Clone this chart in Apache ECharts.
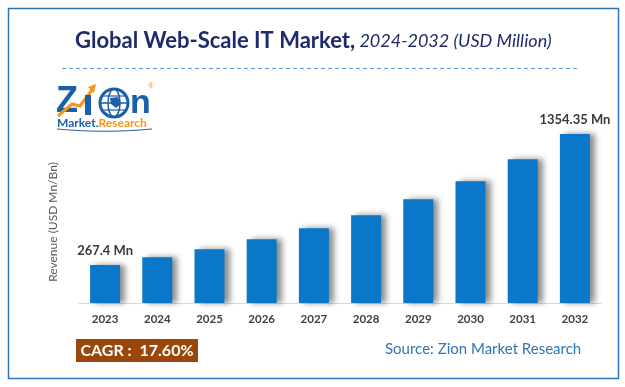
<!DOCTYPE html>
<html>
<head>
<meta charset="utf-8">
<style>html,body{margin:0;padding:0;background:#fff;}#c{width:625px;height:387px;}</style>
<script src="https://cdn.jsdelivr.net/npm/echarts@6/dist/echarts.min.js"></script>
</head>
<body>
<div id="c"></div>
<script>
const categories = ['2023','2024','2025','2026','2027','2028','2029','2030','2031','2032'];
const revenue = [304.5, 366.2, 430.3, 510.5, 598.6, 702.8, 831.0, 975.3, 1151.6, 1354.35];
const valueLabels = ['267.4 Mn', '', '', '', '', '', '', '', '', '1354.35 Mn'];
const titleBold = 'Global Web-Scale IT Market,';
const titleItalic = ' 2024-2032 (USD Million)';
const yAxisName = 'Revenue (USD Mn/Bn)';
const cagrText = 'CAGR :  17.60%';
const sourceText = 'Source: Zion Market Research';

const chart = echarts.init(document.getElementById('c'), null, {renderer: 'canvas'});
const FONT = 'Lato, "Open Sans", sans-serif';

const barData = revenue.map((v, i) => ({
  value: v,
  label: {
    show: valueLabels[i] !== '',
    formatter: valueLabels[i]
  }
}));

chart.setOption({
  animation: false,
  grid: {left: 79, right: 24, top: 134, bottom: 84},
  xAxis: {
    type: 'category',
    data: categories,
    axisLine: {show: true, lineStyle: {color: '#d9d9d9', width: 1}},
    axisTick: {show: false},
    axisLabel: {color: '#404040', fontFamily: FONT, fontSize: 11.5, fontWeight: 'bold', margin: 10}
  },
  yAxis: {
    type: 'value',
    min: 0,
    max: 1354.35,
    axisLine: {show: false},
    axisTick: {show: false},
    axisLabel: {show: false},
    splitLine: {show: false}
  },
  series: [{
    type: 'bar',
    data: barData,
    barWidth: 30,
    itemStyle: {
      color: '#0a77c9',
      shadowColor: 'rgba(0,0,0,0.45)',
      shadowBlur: 6,
      shadowOffsetX: 5,
      shadowOffsetY: 0
    },
    label: {
      position: 'top',
      distance: 8,
      color: '#3a3a3a',
      fontFamily: FONT,
      fontSize: 13,
      fontWeight: 'bold'
    }
  }],
  graphic: [
    // outer border
    {type: 'rect', shape: {x: 8.5, y: 8.5, width: 610, height: 370}, style: {fill: 'none', stroke: '#2e75b6', lineWidth: 1.5}, silent: true},
    // title
    {type: 'text', x: 75, y: 41, style: {
      text: '{b|' + titleBold + '}{i|' + titleItalic + '}',
      rich: {
        b: {fontFamily: FONT, fontSize: 22, fontWeight: 'bold', fill: '#1f2a6b'},
        i: {fontFamily: FONT, fontSize: 18, fontStyle: 'italic', fill: '#1f2a6b'}
      },
      textVerticalAlign: 'middle'
    }},
    // dashed separator
    {type: 'line', shape: {x1: 62, y1: 68.5, x2: 578, y2: 68.5}, style: {stroke: '#5b9bd5', lineWidth: 1, lineDash: [4, 3]}},
    // y axis name
    {type: 'text', x: 53, y: 222, rotation: Math.PI / 2, style: {text: yAxisName, fontFamily: FONT, fontSize: 12, fill: '#595959', textAlign: 'center', textVerticalAlign: 'middle'}},
    // logo: Z
    {type: 'text', x: 56, y: 102, style: {text: 'Z', fontFamily: 'Arial, "Liberation Sans", sans-serif', fontSize: 36, fontWeight: 'bold', fill: '#1b5fa8', textVerticalAlign: 'middle'}},
    // orange arrow
    {type: 'polyline', shape: {points: [[58, 116], [72, 104], [80, 106], [92, 90]]}, style: {stroke: '#f7941d', lineWidth: 3, fill: 'none'}},
    {type: 'polygon', shape: {points: [[88, 87], [96, 84], [94, 93]]}, style: {fill: '#f7941d'}},
    // i
    {type: 'rect', shape: {x: 85, y: 95, width: 6, height: 20}, style: {fill: '#1b5fa8'}},
    // globe
    {type: 'circle', shape: {cx: 114, cy: 103, r: 14}, style: {fill: '#ffffff', stroke: '#1b5fa8', lineWidth: 3}},
    {type: 'ellipse', shape: {cx: 114, cy: 103, rx: 6, ry: 14}, style: {fill: 'none', stroke: '#1b5fa8', lineWidth: 1.5}},
    {type: 'line', shape: {x1: 100, y1: 103, x2: 128, y2: 103}, style: {stroke: '#1b5fa8', lineWidth: 1.5}},
    {type: 'line', shape: {x1: 103, y1: 96, x2: 125, y2: 96}, style: {stroke: '#1b5fa8', lineWidth: 1.2}},
    {type: 'line', shape: {x1: 103, y1: 110, x2: 125, y2: 110}, style: {stroke: '#1b5fa8', lineWidth: 1.2}},
    {type: 'polygon', shape: {points: [[110, 98], [118, 97], [121, 104], [116, 108], [111, 104]]}, style: {fill: '#1b5fa8'}},
    // n
    {type: 'text', x: 130, y: 104, style: {text: 'n', fontFamily: 'Arial, "Liberation Sans", sans-serif', fontSize: 34, fontWeight: 'bold', fill: '#1b5fa8', textVerticalAlign: 'middle'}},
    {type: 'text', x: 148, y: 86, style: {text: '®', fontFamily: 'Arial, sans-serif', fontSize: 8, fill: '#f7941d', textVerticalAlign: 'middle'}},
    // Market.Research
    {type: 'text', x: 57, y: 123, style: {
      text: '{m|Market}{d|.}{r|Research}',
      rich: {
        m: {fontFamily: FONT, fontSize: 12, fontWeight: 'bold', fill: '#1b5fa8'},
        d: {fontFamily: FONT, fontSize: 12, fontWeight: 'bold', fill: '#1b5fa8'},
        r: {fontFamily: FONT, fontSize: 12, fontWeight: 'bold', fill: '#f7941d'}
      },
      textVerticalAlign: 'middle'
    }},
    {type: 'bezierCurve', shape: {x1: 57, y1: 129, x2: 152, y2: 129, cpx1: 90, cpy1: 132, cpx2: 120, cpy2: 132}, style: {stroke: '#1b5fa8', lineWidth: 1, fill: 'none'}},
    // CAGR box
    {type: 'rect', shape: {x: 76, y: 339, width: 122, height: 23}, style: {fill: '#9a470b'}},
    {type: 'text', x: 137, y: 351, style: {text: cagrText, fontFamily: FONT, fontSize: 16, fontWeight: 'bold', fill: '#ffffff', textAlign: 'center', textVerticalAlign: 'middle'}},
    // source
    {type: 'text', x: 385, y: 349, style: {text: sourceText, fontFamily: FONT, fontSize: 15, fill: '#2e75b6', textVerticalAlign: 'middle'}}
  ]
});
</script>
</body>
</html>
